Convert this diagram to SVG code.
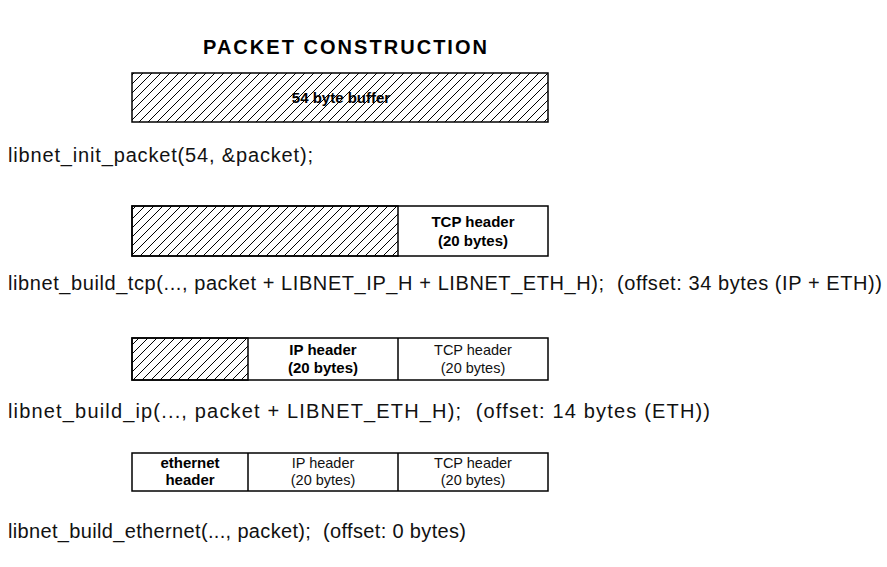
<svg xmlns="http://www.w3.org/2000/svg" width="887" height="567" viewBox="0 0 887 567">
<defs>
<pattern id="hatch" patternUnits="userSpaceOnUse" width="9" height="9">
<path d="M-1,1 L1,-1 M0,9 L9,0 M8,10 L10,8" stroke="#000" stroke-width="1"/>
</pattern>
<style>
.box{fill:#fff;stroke:#000;stroke-width:1.5}
.hb{fill:url(#hatch);stroke:#000;stroke-width:1.5}
.sep{stroke:#000;stroke-width:1.5}
.code{font-family:"Liberation Sans",Arial,sans-serif;font-size:20px;fill:#111;white-space:pre}
.title{font-family:"Liberation Sans",Arial,sans-serif;font-size:20px;font-weight:bold;fill:#000}
.lb{font-family:"Liberation Sans",Arial,sans-serif;font-size:15px;font-weight:bold;fill:#000;text-anchor:middle}
.ln{font-family:"Liberation Sans",Arial,sans-serif;font-size:14.5px;fill:#111;text-anchor:middle}
</style>
</defs>
<rect width="887" height="567" fill="#fff"/>
<text class="title" x="203" y="54" textLength="284" lengthAdjust="spacing">PACKET CONSTRUCTION</text>

<g id="buffer">
<rect class="hb" x="132" y="73" width="416" height="49"/>
<text class="lb" x="341" y="103">54 byte buffer</text>
</g>
<text class="code" x="8" y="162" textLength="305" lengthAdjust="spacing">libnet_init_packet(54, &amp;packet);</text>

<g id="tcp-step">
<rect class="box" x="132" y="206" width="416" height="50"/>
<rect class="hb" x="132" y="206" width="266" height="50"/>
<text class="lb" x="473" y="227">TCP header</text>
<text class="lb" x="473" y="246">(20 bytes)</text>
</g>
<text class="code" x="8" y="290" textLength="874" lengthAdjust="spacing" xml:space="preserve">libnet_build_tcp(..., packet + LIBNET_IP_H + LIBNET_ETH_H);  (offset: 34 bytes (IP + ETH))</text>

<g id="ip-step">
<rect class="box" x="132" y="338" width="416" height="42"/>
<rect class="hb" x="132" y="338" width="116" height="42"/>
<line class="sep" x1="398" y1="338" x2="398" y2="380"/>
<text class="lb" x="323" y="355">IP header</text>
<text class="lb" x="323" y="373">(20 bytes)</text>
<text class="ln" x="473" y="355">TCP header</text>
<text class="ln" x="473" y="373">(20 bytes)</text>
</g>
<text class="code" x="8" y="418" textLength="702" lengthAdjust="spacing" xml:space="preserve">libnet_build_ip(..., packet + LIBNET_ETH_H);  (offset: 14 bytes (ETH))</text>

<g id="eth-step">
<rect class="box" x="132" y="453" width="416" height="38"/>
<line class="sep" x1="248" y1="453" x2="248" y2="491"/>
<line class="sep" x1="398" y1="453" x2="398" y2="491"/>
<text class="lb" x="190" y="468">ethernet</text>
<text class="lb" x="190" y="485">header</text>
<text class="ln" x="323" y="468">IP header</text>
<text class="ln" x="323" y="485">(20 bytes)</text>
<text class="ln" x="473" y="468">TCP header</text>
<text class="ln" x="473" y="485">(20 bytes)</text>
</g>
<text class="code" x="8" y="538" textLength="458" lengthAdjust="spacing" xml:space="preserve">libnet_build_ethernet(..., packet);  (offset: 0 bytes)</text>
</svg>
